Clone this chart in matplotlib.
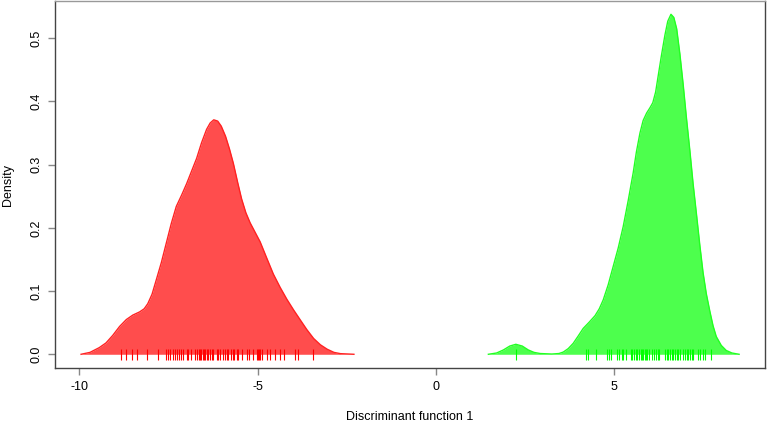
import matplotlib
matplotlib.use("Agg")
from matplotlib import pyplot as plt

plt.rcParams["font.family"] = ["Liberation Sans", "DejaVu Sans"]

# density curves (x, density)
red_x = [-9.95, -9.70, -9.44, -9.25, -9.06, -8.87, -8.68, -8.50, -8.31, -8.18,
         -8.08, -7.96, -7.84, -7.70, -7.56, -7.42, -7.28, -7.13, -6.99, -6.85,
         -6.71, -6.57, -6.43, -6.33, -6.23, -6.12, -6.02, -5.90, -5.79, -5.68,
         -5.56, -5.45, -5.33, -5.21, -5.07, -4.93, -4.75, -4.56, -4.37, -4.18,
         -3.99, -3.80, -3.62, -3.43, -3.24, -3.05, -2.86, -2.68, -2.30]
red_y = [0.0, 0.003, 0.0105, 0.018, 0.030, 0.044, 0.055, 0.062, 0.067, 0.072,
         0.080, 0.095, 0.118, 0.145, 0.176, 0.207, 0.234, 0.252, 0.270, 0.290,
         0.310, 0.335, 0.356, 0.366, 0.371, 0.369, 0.361, 0.345, 0.325, 0.302,
         0.272, 0.246, 0.224, 0.208, 0.193, 0.178, 0.153, 0.127, 0.106, 0.087,
         0.070, 0.054, 0.039, 0.025, 0.015, 0.008, 0.003, 0.001, 0.0]

green_x = [1.47, 1.70, 1.89, 2.07, 2.24, 2.42, 2.59, 2.75, 2.92, 3.25, 3.45,
           3.57, 3.71, 3.85, 3.99, 4.13, 4.30, 4.46, 4.58, 4.69, 4.83, 4.97,
           5.11, 5.25, 5.39, 5.53, 5.62, 5.72, 5.81, 5.91, 6.00, 6.08, 6.16,
           6.23, 6.32, 6.42, 6.50, 6.59, 6.67, 6.75, 6.84, 6.93, 7.02, 7.12,
           7.21, 7.31, 7.40, 7.49, 7.58, 7.68, 7.77, 7.86, 8.00, 8.14, 8.30,
           8.50]
green_y = [0.0, 0.002, 0.0068, 0.013, 0.0158, 0.013, 0.0068, 0.003, 0.0012,
           0.0004, 0.0012, 0.0035, 0.009, 0.0174, 0.029, 0.041, 0.051, 0.061,
           0.072, 0.086, 0.110, 0.139, 0.168, 0.202, 0.243, 0.287, 0.320, 0.350,
           0.370, 0.382, 0.390, 0.398, 0.415, 0.440, 0.472, 0.505, 0.527, 0.538,
           0.533, 0.515, 0.475, 0.428, 0.376, 0.322, 0.270, 0.219, 0.172, 0.129,
           0.096, 0.068, 0.045, 0.028, 0.014, 0.006, 0.002, 0.0]

# rug (observations)
red_rug = [-8.83, -8.69, -8.51, -8.38, -8.11, -7.80, -7.57, -7.51, -7.46, -7.38,
           -7.32, -7.27, -7.21, -7.15, -7.09, -6.99, -6.95, -6.88, -6.76, -6.71,
           -6.64, -6.62, -6.59, -6.54, -6.51, -6.47, -6.43, -6.38, -6.34, -6.29,
           -6.25, -6.15, -6.10, -6.06, -5.96, -5.92, -5.87, -5.82, -5.76, -5.70,
           -5.65, -5.59, -5.54, -5.45, -5.31, -5.24, -5.12, -5.03, -5.00, -4.96,
           -4.94, -4.89, -4.75, -4.66, -4.51, -4.37, -4.26, -3.95, -3.86, -3.44]
green_rug = [2.24, 4.20, 4.25, 4.49, 4.81, 4.86, 4.91, 5.09, 5.13, 5.21, 5.25,
             5.32, 5.47, 5.51, 5.55, 5.60, 5.65, 5.70, 5.74, 5.78, 5.81, 5.85,
             5.89, 5.93, 5.97, 6.05, 6.11, 6.17, 6.22, 6.26, 6.42, 6.47, 6.51,
             6.56, 6.61, 6.65, 6.70, 6.75, 6.80, 6.84, 6.92, 6.98, 7.03, 7.07,
             7.12, 7.17, 7.22, 7.35, 7.40, 7.50, 7.54, 7.70]

x_ticks = [-10, -5, 0, 5]
y_ticks = [0.0, 0.1, 0.2, 0.3, 0.4, 0.5]

fig = plt.figure(figsize=(7.67, 4.23), dpi=100)
ax = fig.add_axes([0.0713, 0.1293, 0.9265, 0.8683])

ax.fill_between(red_x, red_y, 0, color="#ff4d4d", linewidth=0)
ax.plot(red_x, red_y, color="#ff2222", linewidth=1.0)
ax.fill_between(green_x, green_y, 0, color="#4dff4d", linewidth=0)
ax.plot(green_x, green_y, color="#22ff22", linewidth=1.0)

ax.vlines(red_rug, -0.009, 0.009, color="#ff0000", linewidth=0.8)
ax.vlines(green_rug, -0.009, 0.009, color="#00ff00", linewidth=0.8)

ax.set_xlim(-10.69, 9.235)
ax.set_ylim(-0.0222, 0.559)
ax.set_xticks(x_ticks)
ax.set_xticklabels(["-10", "-5", "0", "5"])
ax.set_yticks(y_ticks)
ax.set_yticklabels(["0.0", "0.1", "0.2", "0.3", "0.4", "0.5"], rotation=90,
                   va="center")
ax.tick_params(direction="out", length=5, width=1, color="#888888",
               labelsize=9, pad=4)

for side in ["left", "bottom", "right"]:
    ax.spines[side].set_color("#444444")
ax.spines["top"].set_color("#999999")
for sp in ax.spines.values():
    sp.set_linewidth(1)

ax.set_xlabel("Discriminant function 1", fontsize=9, labelpad=13)
ax.set_ylabel("Density", fontsize=9, labelpad=12)

fig.savefig("out.png", dpi=100)
